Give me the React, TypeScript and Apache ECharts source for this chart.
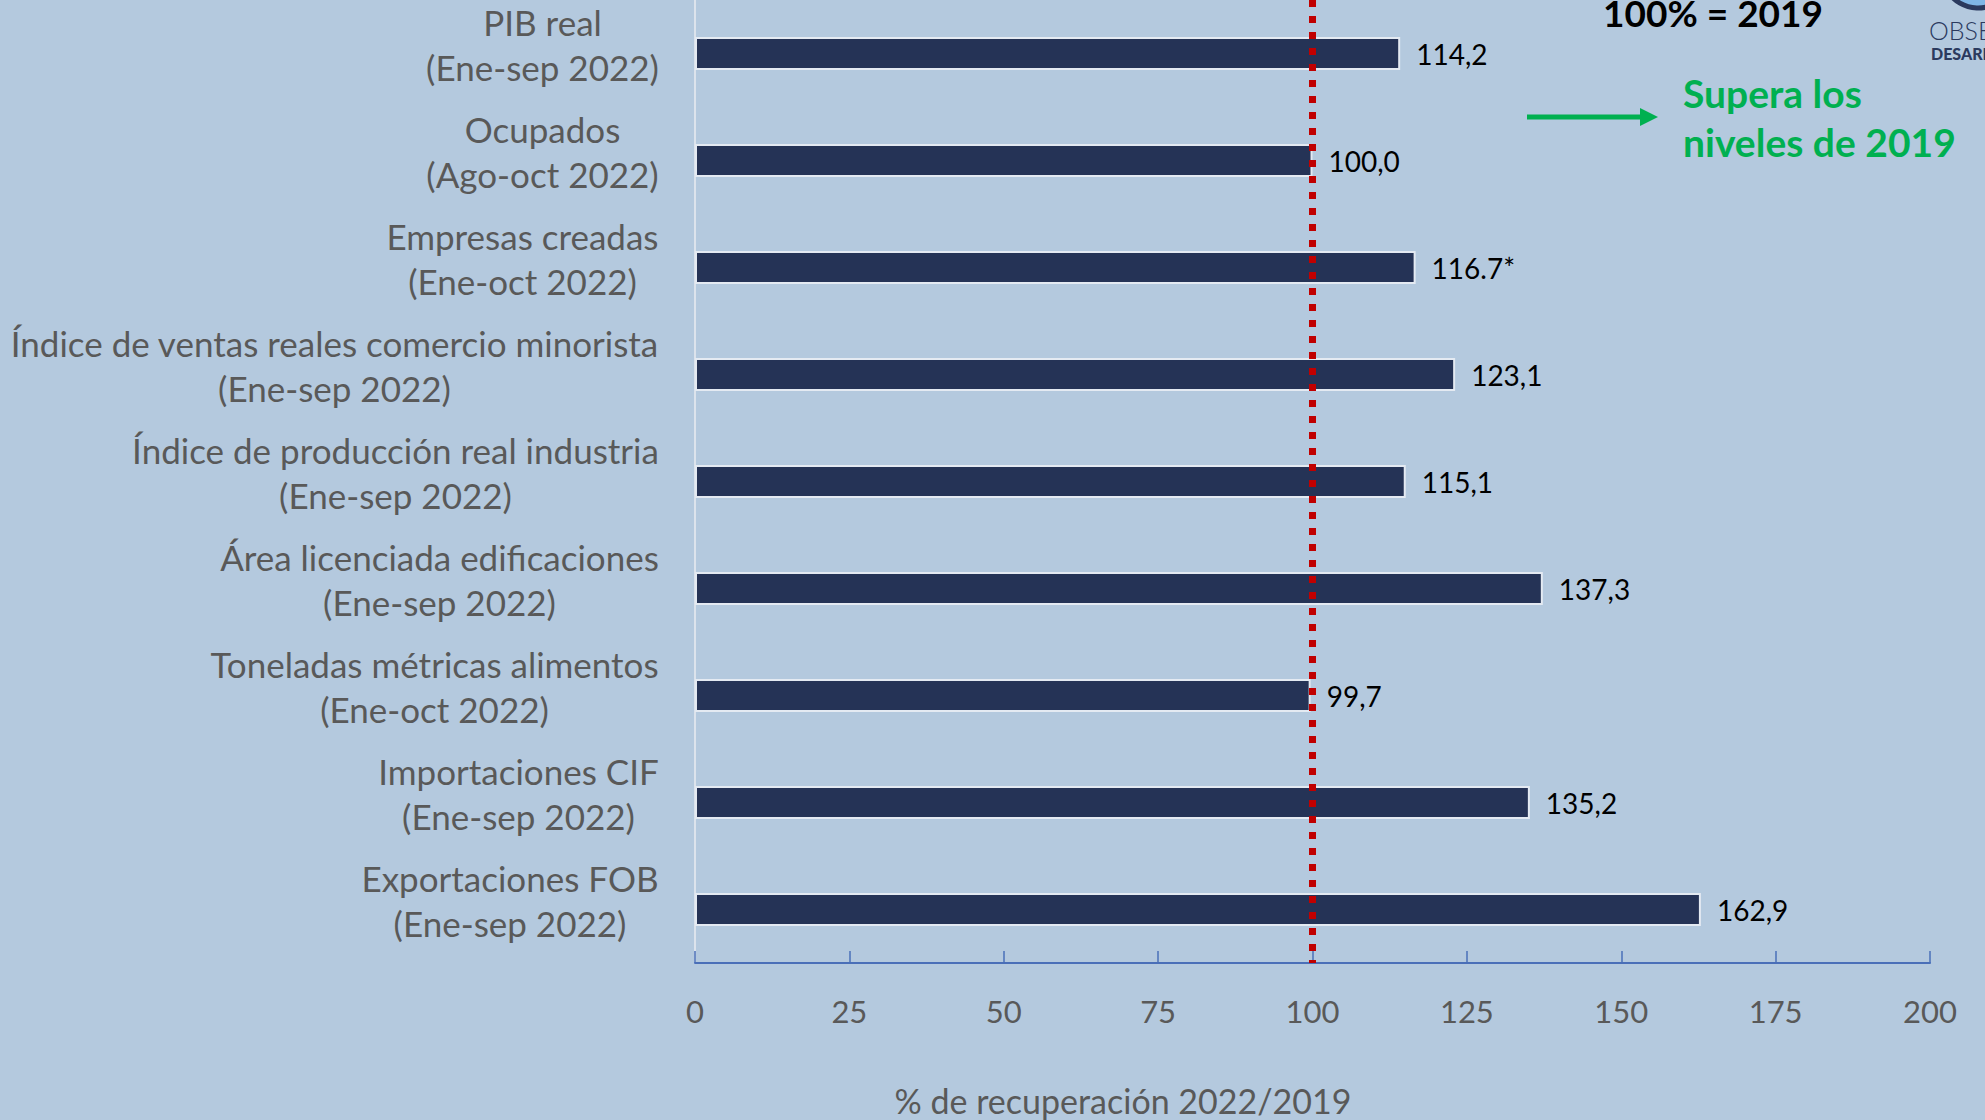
import React, { useEffect, useRef } from "react";
import * as echarts from "echarts";

const categoryNames = [
  "PIB real",
  "Ocupados",
  "Empresas creadas",
  "Índice de ventas reales comercio minorista",
  "Índice de producción real industria",
  "Área licenciada edificaciones",
  "Toneladas métricas alimentos",
  "Importaciones CIF",
  "Exportaciones FOB",
];
const categoryPeriods = [
  "(Ene-sep 2022)",
  "(Ago-oct 2022)",
  "(Ene-oct 2022)",
  "(Ene-sep 2022)",
  "(Ene-sep 2022)",
  "(Ene-sep 2022)",
  "(Ene-oct 2022)",
  "(Ene-sep 2022)",
  "(Ene-sep 2022)",
];
const recoveryValues = [114.2, 100.0, 116.7, 123.1, 115.1, 137.3, 99.7, 135.2, 162.9];
const valueLabels = ["114,2", "100,0", "116.7*", "123,1", "115,1", "137,3", "99,7", "135,2", "162,9"];
const xTicks = [0, 25, 50, 75, 100, 125, 150, 175, 200];
const referenceLevel = 100;

const FONT = "Lato, 'Noto Sans', sans-serif";
const LABEL_SIZE = 35;
const GRAY = "#595959";

function measure(text: string, size: number, weight = "normal"): number {
  const c = document.createElement("canvas");
  const ctx = c.getContext("2d");
  if (!ctx) return text.length * size * 0.5;
  ctx.font = `${weight} ${size}px ${FONT}`;
  return ctx.measureText(text).width;
}

export default function App() {
  const ref = useRef<HTMLDivElement>(null);
  useEffect(() => {
    document.body.style.margin = "0";
    if (!ref.current) return;
    const chart = echarts.init(ref.current, null, { renderer: "svg" });

    const rich: Record<string, any> = {};
    categoryNames.forEach((n, i) => {
      const w = Math.ceil(Math.max(measure(n, LABEL_SIZE), measure(categoryPeriods[i], LABEL_SIZE))) + 2;
      rich["c" + i] = {
        width: w,
        align: "center",
        fontSize: LABEL_SIZE,
        fontFamily: FONT,
        color: GRAY,
        lineHeight: 45,
      };
    });
    const cats = categoryNames.map((n, i) => n + "|" + i);

    chart.setOption({
      animation: false,
      backgroundColor: "#B4C9DE",
      grid: { left: 695, right: 55, top: -1, bottom: 157, containLabel: false },
      xAxis: {
        type: "value",
        min: 0,
        max: 200,
        interval: 25,
        axisLine: { show: true, lineStyle: { color: "#4A6FB8", width: 2 } },
        axisTick: { show: true, inside: true, length: 12, lineStyle: { color: "#4A6FB8", width: 1.5 } },
        splitLine: { show: false },
        axisLabel: {
          margin: 32,
          fontSize: 31,
          fontFamily: FONT,
          color: GRAY,
          formatter: (v: number) => (xTicks.includes(v) ? String(v) : ""),
        },
      },
      yAxis: {
        type: "category",
        inverse: true,
        data: cats,
        axisLine: { show: true, lineStyle: { color: "#DCE3EC", width: 2 } },
        axisTick: { show: false },
        splitLine: { show: false },
        axisLabel: {
          margin: 35,
          align: "right",
          padding: [0, 0, 19, 0],
          formatter: (v: string) => {
            const i = Number(v.split("|")[1]);
            return `{c${i}|${categoryNames[i]}}\n{c${i}|${categoryPeriods[i]}}`;
          },
          rich,
        },
      },
      series: [
        {
          type: "line",
          z: 1,
          data: [],
          markLine: {
            silent: true,
            symbol: "none",
            label: { show: false },
            lineStyle: { color: "#C00000", width: 7, type: [7, 9], cap: "butt" },
            data: [{ xAxis: referenceLevel }],
          },
        },
        {
          type: "bar",
          z: 3,
          barWidth: 33,
          data: recoveryValues,
          itemStyle: { color: "#253356", borderColor: "#E4EAF2", borderWidth: 2 },
          label: {
            show: true,
            position: "right",
            distance: 16,
            fontSize: 28,
            fontFamily: FONT,
            color: "#000000",
            formatter: (p: any) => valueLabels[p.dataIndex],
          },
        },
      ],
      graphic: [
        {
          type: "text",
          left: 1603,
          top: -6,
          style: { text: "100% = 2019", font: `bold 37px ${FONT}`, fill: "#000000" },
        },
        {
          type: "text",
          left: 1683,
          top: 68,
          style: {
            text: "Supera los\nniveles de 2019",
            font: `bold 39px ${FONT}`,
            fill: "#00B050",
            lineHeight: 49,
          },
        },
        {
          type: "line",
          shape: { x1: 1527, y1: 117, x2: 1644, y2: 117 },
          style: { stroke: "#00B050", lineWidth: 5 },
        },
        {
          type: "polygon",
          shape: { points: [[1640, 108], [1658, 117], [1640, 126]] },
          style: { fill: "#00B050" },
        },
        {
          type: "circle",
          shape: { cx: 1978, cy: -28, r: 36 },
          style: { fill: "#7FB6E6", stroke: "#2B3A5E", lineWidth: 5 },
        },
        {
          type: "text",
          left: 1929,
          top: 17,
          style: { text: "OBSE", font: `300 25px ${FONT}`, fill: "#2B3A5E", lineHeight: 26 },
        },
        {
          type: "text",
          left: 1931,
          top: 45,
          style: { text: "DESARR", font: `900 16px ${FONT}`, fill: "#2B3A5E", lineHeight: 17 },
        },
        {
          type: "text",
          x: 1123,
          y: 1100,
          style: {
            text: "% de recuperación 2022/2019",
            font: `34px ${FONT}`,
            fill: GRAY,
            textAlign: "center",
            textVerticalAlign: "middle",
          },
        },
      ],
    });
    return () => chart.dispose();
  }, []);
  return <div ref={ref} style={{ width: 1985, height: 1120 }} />;
}
